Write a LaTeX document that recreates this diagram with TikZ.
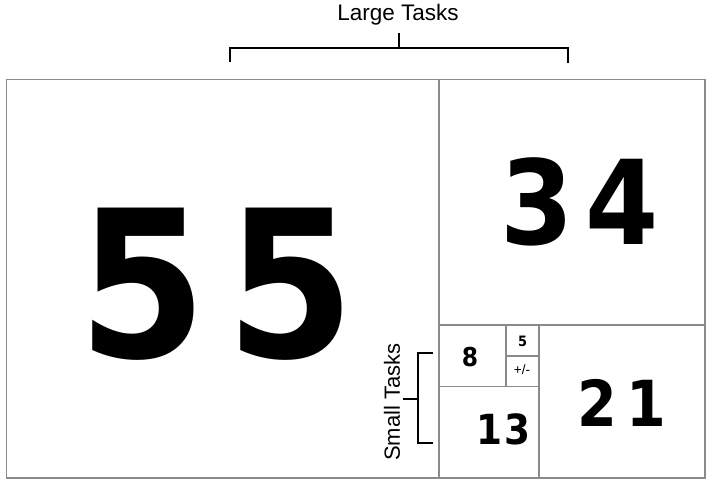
\documentclass[tikz,border=0pt]{standalone}
\usepackage{fontspec}
\setmainfont{Liberation Sans}
\newfontfamily\digitfont[FakeStretch=0.9]{DejaVu Sans}
\begin{document}
\begin{tikzpicture}[x=1pt,y=-1pt,
  grid/.style={draw=black!46, line width=1.5pt},
  brace/.style={draw=black, line width=1.6pt},
  num/.style={inner sep=0pt},
  lbl/.style={inner sep=0pt}]
\useasboundingbox (0,0) rectangle (713,486);
% grid
\draw[grid] (6.3,79.3) rectangle (705,478);
\draw[grid] (439,79.3) -- (439,478);
\draw[grid] (439,325) -- (705,325);
\draw[grid] (539,325) -- (539,478);
\draw[grid] (439,386.5) -- (539,386.5);
\draw[grid] (505.8,325) -- (505.8,386.5);
\draw[grid] (505.8,356) -- (539,356);
% numbers
\node[num, font=\digitfont\bfseries\fontsize{205}{205}\selectfont] (n55) at (217,284) {5\kern19.6pt5};
\node[num, font=\digitfont\bfseries\fontsize{117}{117}\selectfont] (n34) at (580,202) {3\kern12pt4};
\node[num, font=\digitfont\bfseries\fontsize{63.5}{63.5}\selectfont] (n21) at (622,402.5) {2\kern9pt1};
\node[num, font=\digitfont\bfseries\fontsize{41.5}{41.5}\selectfont] (n13) at (503.5,429) {1\kern2pt3};
\node[num, font=\digitfont\bfseries\fontsize{26}{26}\selectfont] (n8) at (470,357) {8};
\node[num, font=\digitfont\bfseries\fontsize{14.3}{14.3}\selectfont] (n5) at (522.5,341.5) {5};
\node[lbl, font=\fontsize{13.5}{13.5}\selectfont] (npm) at (522,369.5) {+/-};
% Large Tasks bracket
\node[lbl, font=\fontsize{22.5}{22.5}\selectfont] (large) at (398,15) {Large Tasks};
\coordinate (lt) at (399,33);
\coordinate (lc) at (399,48);
\coordinate (ll) at (230,48);
\coordinate (lr) at (568,48);
\draw[brace] (lt) -- (lc);
\draw[brace] (230,62) -- (ll) -- (lr) -- (568,63);
% Small Tasks bracket
\node[lbl, font=\fontsize{22}{22}\selectfont, rotate=90] (small) at (392,402) {Small Tasks};
\coordinate (st) at (403,399);
\coordinate (sc) at (417.7,399);
\draw[brace] (st) -- (sc);
\draw[brace] (433,353) -- (417.7,353) -- (417.7,443) -- (433,443);
\end{tikzpicture}
\end{document}
